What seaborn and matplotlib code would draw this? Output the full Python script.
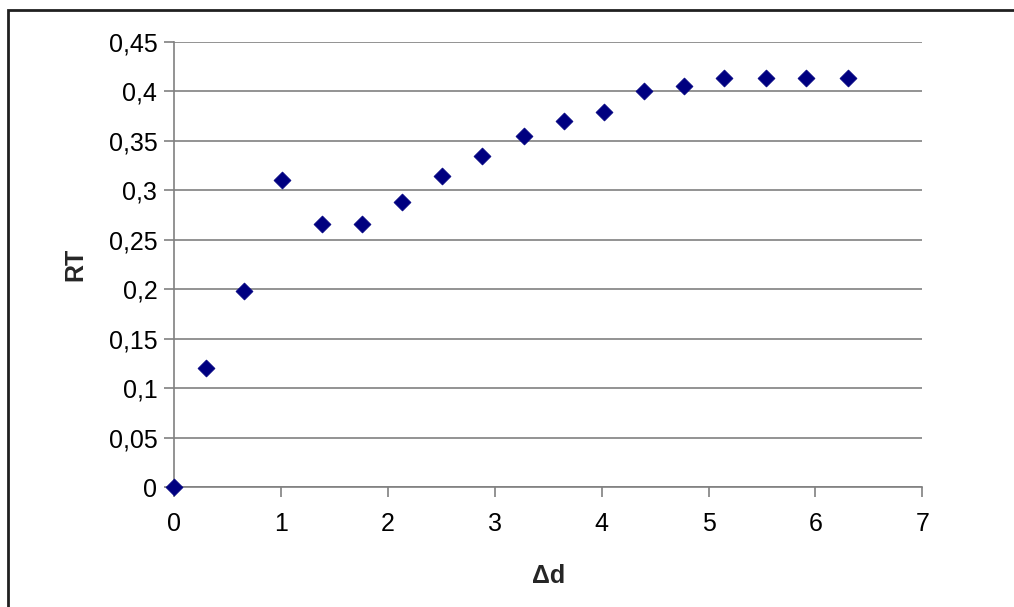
import matplotlib
matplotlib.use("Agg")
import matplotlib.pyplot as plt
from matplotlib.patches import Rectangle
from matplotlib.ticker import FuncFormatter, MultipleLocator
import seaborn as sns
import pandas as pd

# Measured reflectance ratio versus offset
delta_d = [0.0, 0.30, 0.655, 1.01, 1.384, 1.759, 2.133, 2.507, 2.881,
           3.274, 3.651, 4.022, 4.397, 4.771, 5.148, 5.541, 5.915, 6.308]
rt = [0.0, 0.121, 0.198, 0.311, 0.266, 0.266, 0.288, 0.315, 0.335,
      0.355, 0.370, 0.379, 0.400, 0.406, 0.414, 0.414, 0.414, 0.414]

df = pd.DataFrame({"Δd": delta_d, "RT": rt})

sns.set_theme(style="white")
plt.rcParams["font.family"] = ["Liberation Sans", "DejaVu Sans"]

fig = plt.figure(figsize=(10.14, 6.07), dpi=100)
ax = fig.add_axes([174 / 1014, 1 - 487.3 / 607, (922.3 - 174) / 1014, (487.3 - 42) / 607])

ax.set_xlim(0, 7)
ax.set_ylim(0, 0.45)
ax.yaxis.set_major_locator(MultipleLocator(0.05))
ax.xaxis.set_major_locator(MultipleLocator(1))
ax.yaxis.grid(True, color="#808080", linewidth=1.2)
ax.xaxis.grid(False)
ax.set_axisbelow(True)

sns.scatterplot(data=df, x="Δd", y="RT", marker="D", s=75, color="#000080",
                edgecolor="#000080", linewidth=0.5, ax=ax, clip_on=False, zorder=5)

fmt = lambda v, _: ("%g" % round(v, 2)).replace(".", ",")
ax.yaxis.set_major_formatter(FuncFormatter(fmt))
ax.xaxis.set_major_formatter(FuncFormatter(lambda v, _: "%d" % v))

for side in ("top", "right"):
    ax.spines[side].set_visible(False)
for side in ("left", "bottom"):
    ax.spines[side].set_color("#808080")
    ax.spines[side].set_linewidth(1.2)

ax.tick_params(axis="both", which="major", direction="out", length=7, width=1.2,
               color="#808080", labelsize=18, labelcolor="black", pad=5)
ax.tick_params(axis="x", pad=11)
ax.tick_params(axis="y", left=True)
ax.tick_params(axis="x", bottom=True)

ax.set_xlabel("Δd", fontsize=18, fontweight="bold", labelpad=20)
ax.set_ylabel("RT", fontsize=18, fontweight="bold", labelpad=15)

# Outer chart border
fig.patches.append(Rectangle((8 / 1014, -0.05), 1.1, 1 - 10 / 607 + 0.05,
                             transform=fig.transFigure, fill=False,
                             edgecolor="#202020", linewidth=2))

fig.savefig("out.png", dpi=100)
